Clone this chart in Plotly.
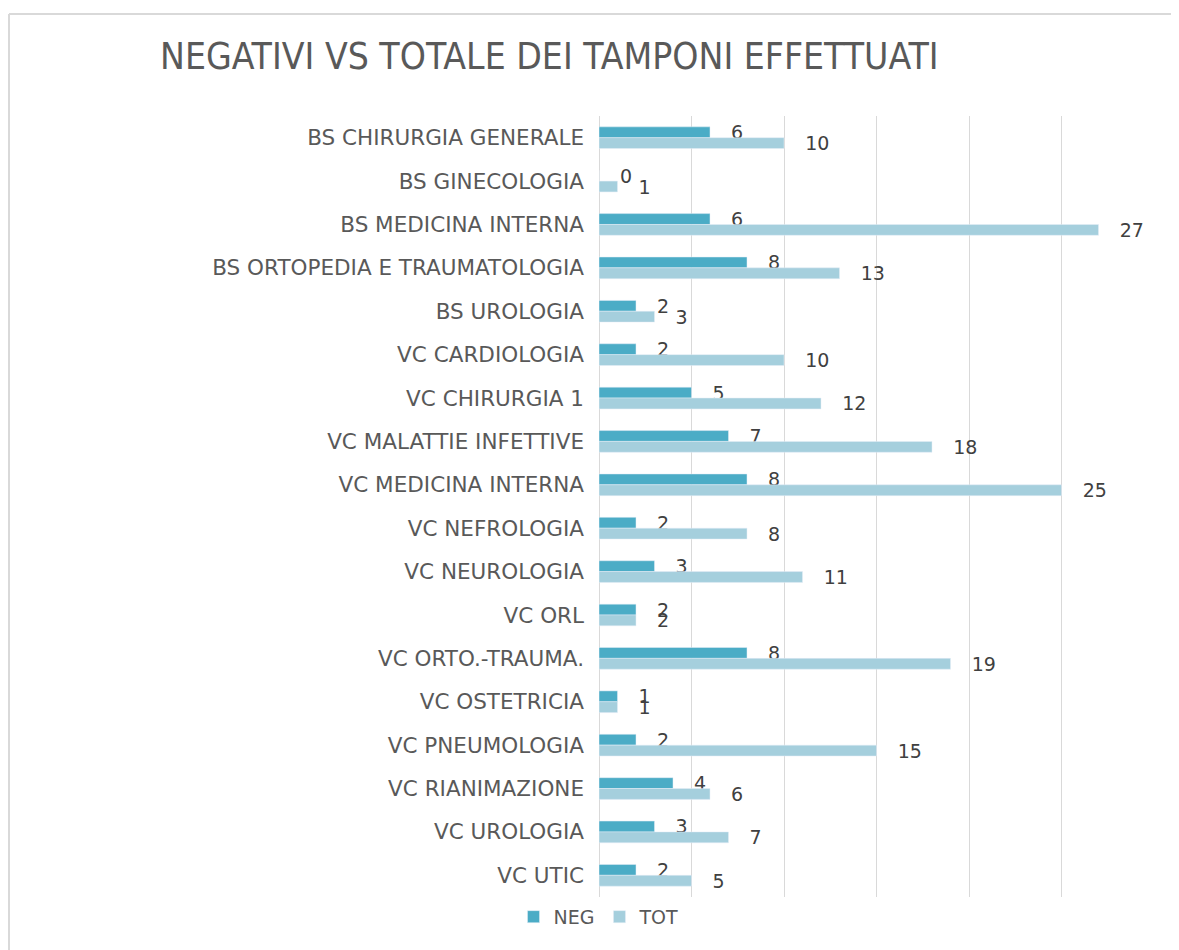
import plotly.graph_objects as go

# reparti, dall'alto in basso
reparti = [
    "BS CHIRURGIA GENERALE", "BS GINECOLOGIA", "BS MEDICINA INTERNA",
    "BS ORTOPEDIA E TRAUMATOLOGIA", "BS UROLOGIA", "VC CARDIOLOGIA",
    "VC CHIRURGIA 1", "VC MALATTIE INFETTIVE", "VC MEDICINA INTERNA",
    "VC NEFROLOGIA", "VC NEUROLOGIA", "VC ORL", "VC ORTO.-TRAUMA.",
    "VC OSTETRICIA", "VC PNEUMOLOGIA", "VC RIANIMAZIONE", "VC UROLOGIA",
    "VC UTIC",
]
neg = [6, 0, 6, 8, 2, 2, 5, 7, 8, 2, 3, 2, 8, 1, 2, 4, 3, 2]
tot = [10, 1, 27, 13, 3, 10, 12, 18, 25, 8, 11, 2, 19, 1, 15, 6, 7, 5]

label_font = dict(family="DejaVu Sans", size=19, color="#404040")

fig = go.Figure()
fig.add_trace(go.Bar(
    name="NEG", y=reparti, x=neg, orientation="h",
    marker_color="#4BACC6", texttemplate="   %{x}", textposition="outside",
    textfont=label_font, cliponaxis=False, constraintext="none",
))
fig.add_trace(go.Bar(
    name="TOT", y=reparti, x=tot, orientation="h",
    marker_color="#A5CFDD", texttemplate="   %{x}", textposition="outside",
    textfont=label_font, cliponaxis=False, constraintext="none",
))

# the page puts the figure 8px in from the top-left corner
fig.update_layout(
    width=1179, height=950,
    paper_bgcolor="white", plot_bgcolor="white",
    margin=dict(l=591, r=33, t=108, b=61),
    barmode="group", bargap=0.5, bargroupgap=0,
    title=dict(
        text="NEGATIVI VS TOTALE DEI TAMPONI EFFETTUATI",
        x=152 / 1179, xanchor="left", y=1 - 48 / 950, yanchor="middle",
        font=dict(family="DejaVu Sans Condensed", size=37, color="#595959"),
    ),
    legend=dict(
        orientation="h", x=0.0, xanchor="center", y=-0.001, yanchor="top",
        font=dict(family="DejaVu Sans", size=19, color="#595959"),
        itemwidth=30,
    ),
    font=dict(family="DejaVu Sans", color="#595959"),
    shapes=[
        dict(type="line", xref="paper", yref="paper",
             x0=-590 / 555, x1=1.1, y0=883 / 781, y1=883 / 781,
             line=dict(color="#D9D9D9", width=2)),
        dict(type="line", xref="paper", yref="paper",
             x0=-590 / 555, x1=-590 / 555, y0=883 / 781, y1=-0.1,
             line=dict(color="#D9D9D9", width=2)),
    ],
)
fig.update_xaxes(
    range=[0, 30], dtick=5, showticklabels=False,
    showgrid=True, gridcolor="#D9D9D9", gridwidth=1,
    zeroline=True, zerolinecolor="#D9D9D9", zerolinewidth=1,
)
fig.update_yaxes(
    autorange="reversed", showgrid=False,
    tickfont=dict(family="DejaVu Sans", size=21.5, color="#595959"),
    ticklabelstandoff=14,
)

fig.write_html("out.html")
